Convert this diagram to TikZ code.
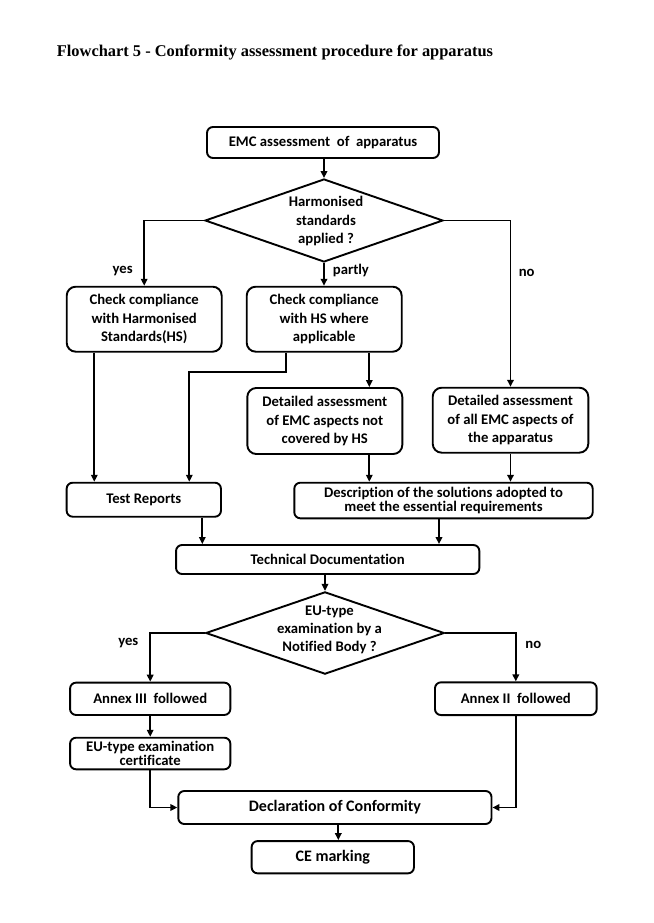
\documentclass[tikz,border=0pt]{standalone}
\usepackage{fontspec}
\setmainfont{Carlito}[RawFeature={-liga}]
\newfontfamily\titlefont{Liberation Serif}
\usetikzlibrary{shapes.geometric,arrows.meta}
\begin{document}
\begin{tikzpicture}[x=1pt,y=-1pt,
  lw/.style={line width=1.9pt},
  box/.style={lw,draw,rounded corners=6pt,inner sep=0pt,align=center,
    font=\bfseries\fontsize{14.7}{18.3}\selectfont},
  bigbox/.style={box,rounded corners=9pt},
  tight/.style={font=\bfseries\fontsize{14.7}{12}\selectfont},
  large/.style={font=\bfseries\fontsize{16}{18}\selectfont},
  dia/.style={lw,draw,shape=diamond,inner sep=0pt,line join=miter},
  txt/.style={inner sep=0pt,align=center,font=\bfseries\fontsize{14.7}{18.3}\selectfont},
  lbl/.style={inner sep=0pt,font=\bfseries\fontsize{14.7}{18}\selectfont},
  arr/.style={lw,-{Triangle[length=7pt,width=6.5pt]}},
  conn/.style={lw}]
\useasboundingbox (0,0) rectangle (653,923);
% title
\node[anchor=base west,inner sep=0pt,font=\titlefont\bfseries\fontsize{16.4}{18}\selectfont] (title) at (56.7,56.3) {Flowchart 5 - Conformity assessment procedure for apparatus};
% nodes
\node[box,minimum width=232pt,minimum height=31pt] (emc) at (323,142.5) {EMC assessment\ \ of\ \ apparatus};
\node[dia,minimum width=238pt,minimum height=83pt] (d1) at (324,220.5) {};
\node[txt] (d1t) at (326,221) {Harmonised\\standards\\applied ?};
\node[bigbox,minimum width=155pt,minimum height=65pt] (hs) at (144.2,319.2) {Check compliance\\with Harmonised\\Standards(HS)};
\node[bigbox,minimum width=155pt,minimum height=65pt] (hsw) at (324.2,319.2) {Check compliance\\with HS where\\applicable};
\node[bigbox,minimum width=155pt,minimum height=66pt] (det1) at (324.8,421) {Detailed assessment\\of EMC aspects not\\covered by HS};
\node[bigbox,minimum width=155.6pt,minimum height=65pt] (det2) at (510.5,420.2) {Detailed assessment\\of all EMC aspects of\\the apparatus};
\node[box,minimum width=154.3pt,minimum height=34pt] (test) at (143.8,499.7) {Test Reports};
\node[box,tight,minimum width=298.4pt,minimum height=35.6pt] (desc) at (443.5,500.5) {Description of the solutions adopted to\\meet the essential requirements};
\node[box,minimum width=303.3pt,minimum height=29pt] (tech) at (327.7,559.5) {Technical Documentation};
\node[dia,minimum width=238.6pt,minimum height=82.3pt] (d2) at (325,633) {};
\node[txt] (d2t) at (329.5,629.7) {EU-type\\examination by a\\Notified Body ?};
\node[box,minimum width=160.3pt,minimum height=32.3pt] (a3) at (150.2,698.8) {Annex III\ \ followed};
\node[box,minimum width=161.7pt,minimum height=32.7pt] (a2) at (515.8,698.7) {Annex II\ \ followed};
\node[box,tight,minimum width=160.3pt,minimum height=31.6pt] (cert) at (150.2,753.5) {EU-type examination\\certificate};
\node[box,large,minimum width=313.2pt,minimum height=33pt] (doc) at (334.9,807.5) {Declaration of Conformity};
\node[box,large,minimum width=162.3pt,minimum height=32.3pt] (ce) at (332.8,857.2) {CE marking};
% labels
\node[lbl] (ly1) at (122.7,270.7) {yes};
\node[lbl,anchor=west] (lp) at (332.7,270.7) {partly};
\node[lbl] (ln1) at (526.7,272.7) {no};
\node[lbl] (ly2) at (128.3,642.7) {yes};
\node[lbl] (ln2) at (533.3,644.7) {no};
% helper coordinates
\coordinate (x1) at (94.3,0);
\coordinate (b1) at (286,372.3);
\coordinate (b2) at (189.3,372.3);
\coordinate (x4) at (369.3,0);
\coordinate (x5) at (202.3,0);
\coordinate (x6) at (439,0);
\coordinate (x7) at (338.3,0);
% connectors
\draw[arr] (emc.south -| d1.north) -- (d1.north);
\draw[arr] (d1.west) -| (hs.north);
\draw[arr] (d1.south) -- (d1.south |- hsw.north);
\draw[arr] (d1.east) -| (det2.north);
\draw[arr] (hs.south -| x1) -- (test.north -| x1);
\draw[arr] (hsw.south -| b1) -- (b1) -- (b2) -- (test.north -| b2);
\draw[arr] (hsw.south -| x4) -- (det1.north -| x4);
\draw[arr] (det1.south -| x4) -- (desc.north -| x4);
\draw[arr] (det2.south) -- (det2.south |- desc.north);
\draw[arr] (test.south -| x5) -- (tech.north -| x5);
\draw[arr] (desc.south -| x6) -- (tech.north -| x6);
\draw[arr] (tech.south -| d2.north) -- (d2.north);
\draw[arr] (d2.west) -| (a3.north);
\draw[arr] (d2.east) -| (a2.north);
\draw[arr] (a3.south) -- (cert.north);
\draw[arr] (cert.south) |- (doc.west);
\draw[arr] (a2.south) |- (doc.east);
\draw[arr] (doc.south -| x7) -- (ce.north -| x7);
\end{tikzpicture}
\end{document}
